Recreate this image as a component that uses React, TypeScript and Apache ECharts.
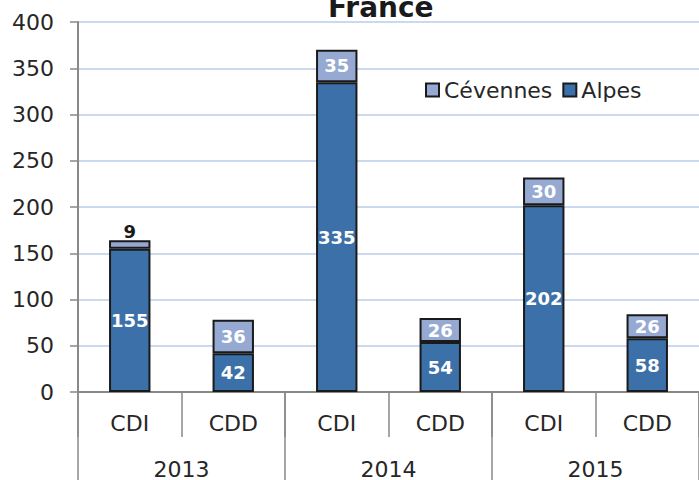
import React, { useEffect, useRef } from "react";
import * as echarts from "echarts";

const categories = ["CDI", "CDD", "CDI", "CDD", "CDI", "CDD"];
const years = ["2013", "2014", "2015"];
const alpes = [155, 42, 335, 54, 202, 58];
const cevennes = [9, 36, 35, 26, 30, 26];
const yTicks = { min: 0, max: 400, interval: 50 };

const FONT = "DejaVu Sans";
const TEXT = "#262626";
const AXIS = "#898989";

export default function App() {
  const ref = useRef<HTMLDivElement>(null);
  useEffect(() => {
    if (!ref.current) return;
    const chart = echarts.init(ref.current, undefined, { renderer: "svg" });
    chart.setOption({
      animation: false,
      textStyle: { fontFamily: FONT },
      title: {
        text: "France",
        left: 323,
        top: -12,
        textStyle: { fontFamily: FONT, fontSize: 28, fontWeight: "bold", color: "#1a1a1a" },
      },
      legend: {
        data: ["Cévennes", "Alpes"],
        left: 420,
        top: 74,
        itemWidth: 13,
        itemHeight: 13,
        itemGap: 10,
        icon: "rect",
        textStyle: { fontFamily: FONT, fontSize: 22, color: TEXT },
      },
      grid: { left: 78, right: -9, top: 22, bottom: 88, containLabel: false },
      xAxis: [
        {
          type: "category",
          data: categories,
          position: "bottom",
          axisLine: { show: true, lineStyle: { color: AXIS, width: 2 } },
          axisTick: { show: true, length: 45, interval: 0, lineStyle: { color: AXIS, width: 1.5 } },
          axisLabel: { interval: 0, margin: 20, fontFamily: FONT, fontSize: 22, color: TEXT },
        },
        {
          type: "category",
          data: years,
          position: "bottom",
          axisLine: { show: false },
          axisTick: { show: true, length: 90, interval: 0, lineStyle: { color: AXIS, width: 1.5 } },
          axisLabel: { interval: 0, margin: 66, fontFamily: FONT, fontSize: 22, color: TEXT },
        },
      ],
      yAxis: {
        type: "value",
        min: yTicks.min,
        max: yTicks.max,
        interval: yTicks.interval,
        axisLine: { show: true, lineStyle: { color: AXIS, width: 2 } },
        axisTick: { show: true, length: 8, lineStyle: { color: AXIS, width: 1.5 } },
        axisLabel: { margin: 24, fontFamily: FONT, fontSize: 22, color: TEXT },
        splitLine: { show: true, lineStyle: { color: "#b9cde5", width: 1.5 } },
      },
      series: [
        {
          name: "Alpes",
          type: "bar",
          stack: "total",
          barWidth: "40%",
          data: alpes,
          itemStyle: { color: "#3c70a8", borderColor: "#1a1a1a", borderWidth: 2 },
          label: {
            show: true,
            position: "inside",
            color: "#ffffff",
            fontWeight: "bold",
            fontFamily: FONT,
            fontSize: 18,
          },
        },
        {
          name: "Cévennes",
          type: "bar",
          stack: "total",
          barWidth: "40%",
          data: cevennes.map((v, i) =>
            i === 0
              ? { value: v, label: { position: "top", color: "#1a1a1a", distance: 0 } }
              : v
          ),
          itemStyle: { color: "#95a9d2", borderColor: "#1a1a1a", borderWidth: 2 },
          label: {
            show: true,
            position: "inside",
            color: "#ffffff",
            fontWeight: "bold",
            fontFamily: FONT,
            fontSize: 18,
          },
        },
      ],
    });
    return () => chart.dispose();
  }, []);
  return (
    <div
      ref={ref}
      style={{ position: "fixed", left: 0, top: 0, width: 699, height: 480, background: "#fff" }}
    />
  );
}
